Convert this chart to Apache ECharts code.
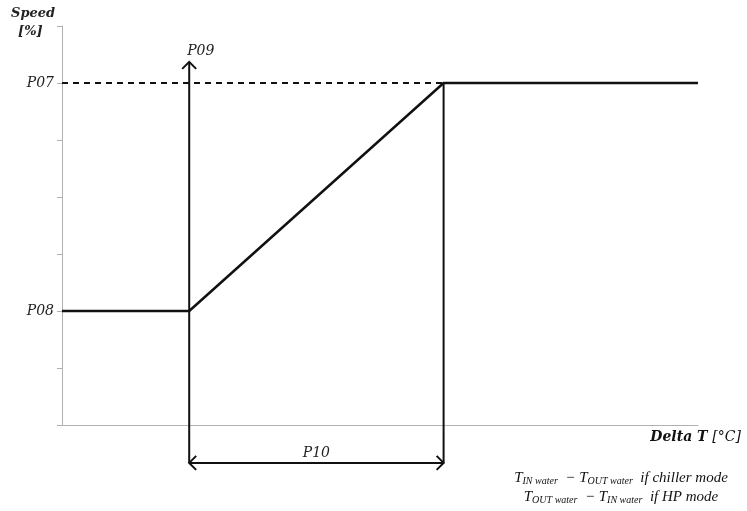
<!DOCTYPE html>
<html><head><meta charset="utf-8">
<script src="https://cdn.jsdelivr.net/npm/echarts@6/dist/echarts.min.js"></script>
<style>html,body{margin:0;padding:0;background:#fff}#c{width:747px;height:511px}</style>
</head><body><div id="c"></div>
<script>
// Data
const speedX = [0, 2, 6, 10];
const speedY = [2, 2, 6, 6];
const refX = [0, 6];
const refY = [6, 6];
const yTickLabels = {2: 'P08', 6: 'P07'};
// annotation segments: [x1, y1, x2, y2, headAtStart, headAtEnd]
const annotSegments = [
  [2, -0.665, 2, 6.37, 0, 1],   // P09 arrow
  [2, -0.665, 6, -0.665, 1, 1], // P10 span
  [6, 6, 6, -0.665, 0, 0]       // P10 right edge
];
const annotLabels = [
  {x: 2, y: 6.37, text: 'P09'},
  {x: 4, y: -0.665, text: 'P10'}
];

const serif = '"DejaVu Serif","Liberation Serif",serif';
const mathSerif = '"Liberation Serif","DejaVu Serif",serif';
const chart = echarts.init(document.getElementById('c'));

function arrowHead(p, q, size) {
  const dx = p[0] - q[0], dy = p[1] - q[1];
  const len = Math.sqrt(dx*dx + dy*dy);
  const ux = dx/len, uy = dy/len;
  const bx = p[0] - ux*size, by = p[1] - uy*size;
  const nx = -uy*size, ny = ux*size;
  return {type: 'polyline', shape: {points: [[bx+nx, by+ny], p, [bx-nx, by-ny]]},
          style: {stroke: '#111', lineWidth: 2, fill: null}};
}

chart.setOption({
  animation: false,
  grid: {left: 62, right: 49, top: 26, bottom: 86},
  xAxis: {
    type: 'value', min: 0, max: 10, interval: 1,
    axisLine: {lineStyle: {color: '#b0b0b0', width: 1}},
    axisTick: {show: false}, axisLabel: {show: false}, splitLine: {show: false}
  },
  yAxis: {
    type: 'value', min: 0, max: 7, interval: 1,
    axisLine: {show: true, lineStyle: {color: '#b0b0b0', width: 1}},
    axisTick: {show: true, length: 5, lineStyle: {color: '#b0b0b0'}},
    axisLabel: {
      margin: 8, color: '#222', fontFamily: serif, fontStyle: 'italic', fontSize: 14,
      formatter: v => yTickLabels[v] || ''
    },
    splitLine: {show: false}
  },
  graphic: [
    {type: 'text', left: 11, top: 7, style: {text: 'Speed', font: 'italic bold 13px ' + serif, fill: '#222'}},
    {type: 'text', left: 18, top: 25, style: {text: '[%]', font: 'italic bold 13px ' + serif, fill: '#222'}},
    {type: 'text', right: 6, top: 430, style: {
      text: '{b|Delta T }{n|[°C]}',
      rich: {b: {font: 'italic bold 14px ' + serif, fill: '#111'}, n: {font: 'italic 14px ' + serif, fill: '#111'}}
    }},
    {type: 'text', x: 621, y: 478, style: {
      text: '{t|T}{s|IN water}{t|  − T}{s|OUT water}{t|  if chiller mode}',
      align: 'center', verticalAlign: 'middle',
      rich: {t: {font: 'italic 15px ' + mathSerif, fill: '#111'}, s: {font: 'italic 10px ' + mathSerif, fill: '#111', verticalAlign: 'bottom', padding: [6,0,0,0]}}
    }},
    {type: 'text', x: 621, y: 497, style: {
      text: '{t|T}{s|OUT water}{t|  − T}{s|IN water}{t|  if HP mode}',
      align: 'center', verticalAlign: 'middle',
      rich: {t: {font: 'italic 15px ' + mathSerif, fill: '#111'}, s: {font: 'italic 10px ' + mathSerif, fill: '#111', verticalAlign: 'bottom', padding: [6,0,0,0]}}
    }}
  ],
  series: [
    {
      type: 'line', data: refX.map((x, i) => [x, refY[i]]), symbol: 'none',
      lineStyle: {color: '#111', width: 2, type: [6, 5]}, z: 2
    },
    {
      type: 'line', data: speedX.map((x, i) => [x, speedY[i]]), symbol: 'none',
      lineStyle: {color: '#111', width: 2.5}, z: 3
    },
    {
      type: 'custom', clip: false, z: 4,
      data: annotSegments,
      renderItem: (params, api) => {
        const p1 = api.coord([api.value(0), api.value(1)]);
        const p2 = api.coord([api.value(2), api.value(3)]);
        const children = [{type: 'line', shape: {x1: p1[0], y1: p1[1], x2: p2[0], y2: p2[1]},
          style: {stroke: '#111', lineWidth: 2}}];
        if (api.value(4)) children.push(arrowHead(p1, p2, 7));
        if (api.value(5)) children.push(arrowHead(p2, p1, 7));
        return {type: 'group', children};
      }
    },
    {
      type: 'custom', clip: false, z: 5,
      data: annotLabels.map(d => [d.x, d.y]),
      renderItem: (params, api) => {
        const p = api.coord([api.value(0), api.value(1)]);
        const txt = annotLabels[params.dataIndex].text;
        const isTop = params.dataIndex === 0;
        return {type: 'text', x: isTop ? p[0] - 2 : p[0], y: isTop ? p[1] - 11 : p[1] - 10,
          style: {text: txt, font: 'italic 14px ' + serif, fill: '#222',
            align: isTop ? 'left' : 'center', verticalAlign: 'middle'}};
      }
    }
  ]
});
</script></body></html>
